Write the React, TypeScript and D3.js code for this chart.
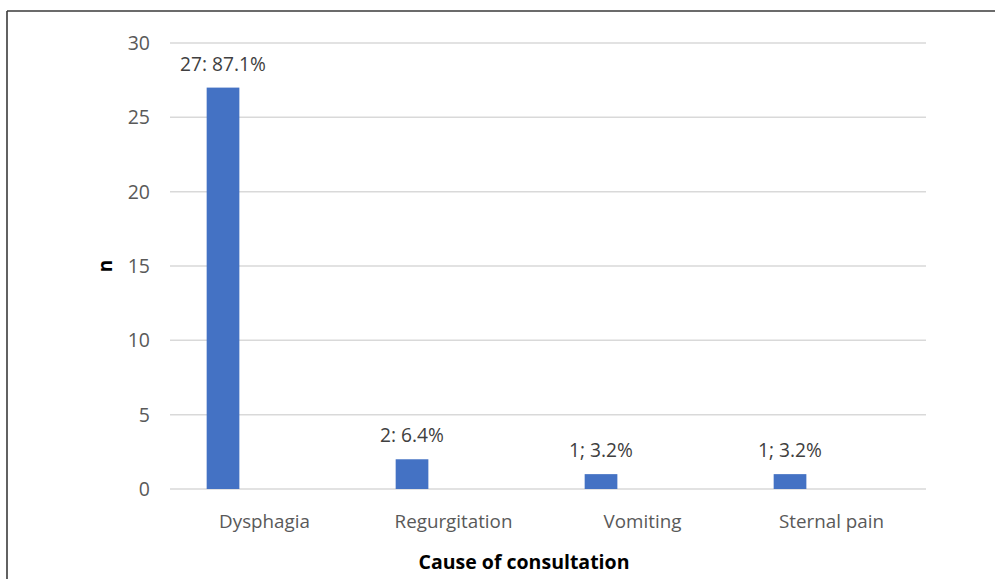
import React from "react";
import * as d3 from "d3";

const categories = ["Dysphagia", "Regurgitation", "Vomiting", "Sternal pain"];
const counts = [27, 2, 1, 1];
const valueLabels = ["27: 87.1%", "2: 6.4%", "1; 3.2%", "1; 3.2%"];
const yTicks = [0, 5, 10, 15, 20, 25, 30];
const xTitle = "Cause of consultation";
const yTitle = "n";

const W = 995;
const H = 579;
const FONT = "'Open Sans', 'Noto Sans', sans-serif";

export default function App() {
  const x = d3.scaleBand<string>().domain(categories).range([170, 926]).padding(0);
  const y = d3.scaleLinear().domain([0, 30]).range([489, 43]);
  const bw = x.bandwidth();
  const barW = bw * 0.173;
  const barOff = bw * 0.194;

  return (
    <svg
      width={W}
      height={H}
      style={{ position: "absolute", left: 0, top: 0, background: "#fff" }}
      fontFamily={FONT}
    >
      {/* frame edges */}
      <line x1={7} x2={7} y1={11} y2={H} stroke="#3a3a3a" strokeWidth={1.6} />
      <line x1={7} x2={W} y1={11} y2={11} stroke="#3a3a3a" strokeWidth={1.6} />

      {/* gridlines and y tick labels */}
      {yTicks.map((t) => (
        <g key={t}>
          <line x1={170} x2={926} y1={y(t)} y2={y(t)} stroke="#d9d9d9" strokeWidth={1.5} />
          <text x={150} y={y(t)} dy="0.36em" textAnchor="end" fontSize={19.5} fill="#595959">
            {t}
          </text>
        </g>
      ))}

      {/* bars with value labels */}
      {categories.map((c, i) => {
        const bx = (x(c) ?? 0) + barOff;
        return (
          <g key={c}>
            <rect x={bx} y={y(counts[i])} width={barW} height={y(0) - y(counts[i])} fill="#4472c4" />
            <text
              x={bx + barW / 2}
              y={y(counts[i]) - 17}
              textAnchor="middle"
              fontSize={19.2}
              fill="#404040"
            >
              {valueLabels[i]}
            </text>
          </g>
        );
      })}

      {/* category labels */}
      {categories.map((c) => (
        <text
          key={c}
          x={(x(c) ?? 0) + bw / 2}
          y={528}
          textAnchor="middle"
          fontSize={18.8}
          fill="#595959"
        >
          {c}
        </text>
      ))}

      {/* axis titles */}
      <text x={524} y={569} textAnchor="middle" fontSize={19.5} fontWeight="bold" fill="#000">
        {xTitle}
      </text>
      <text
        transform={`translate(112, ${(y(0) + y(30)) / 2}) rotate(-90)`}
        textAnchor="middle"
        fontSize={19}
        fontWeight="bold"
        fill="#000"
      >
        {yTitle}
      </text>
    </svg>
  );
}
